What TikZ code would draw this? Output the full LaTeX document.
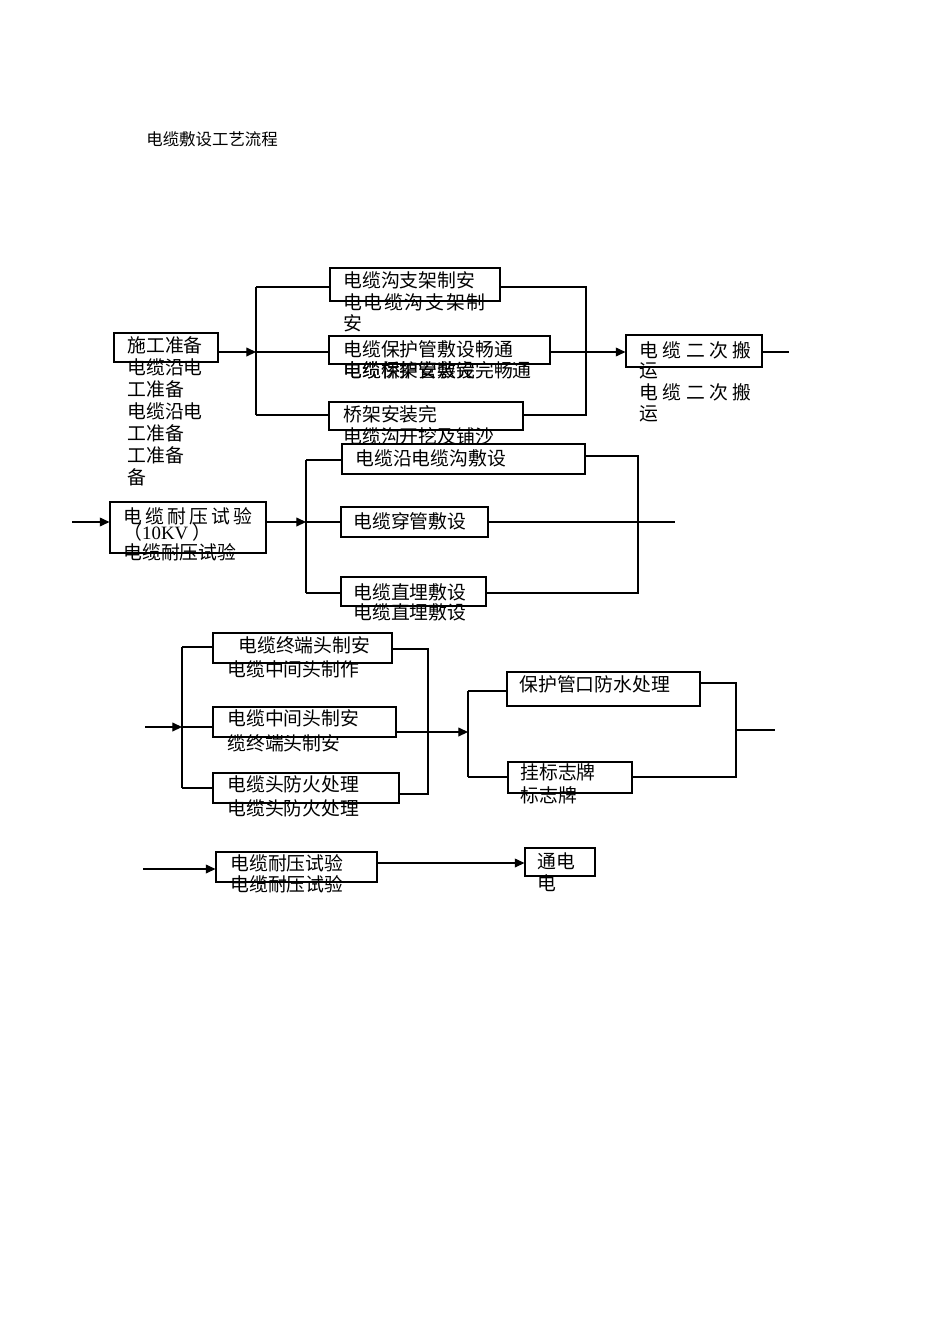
\documentclass[tikz,border=0pt]{standalone}
\usepackage{fontspec}
\setmainfont{Liberation Serif}
\newfontfamily\cjk{Noto Sans CJK SC}
\usetikzlibrary{fit,arrows.meta}

\begin{document}
\begin{tikzpicture}
[
x=0.6263pt, y=-0.6263pt,
box-a/.style={draw, fill=white, line width=0.7pt, inner sep=0pt},
text-a/.style={inner sep=0pt, anchor=west, text height=9.8pt, text depth=0.8pt, font=\cjk\fontsize{11.8pt}{14pt}\selectfont},
text-b/.style={text-a, font=\cjk\fontsize{10.3pt}{12pt}\selectfont},
spaced/.style={text-a, font=\cjk\fontsize{11.8pt}{14pt}\selectfont\addfontfeature{LetterSpace=#1}},
line-a/.style={line width=0.7pt},
arrow-a/.style={line-a, -{Triangle[length=6pt, width=5.5pt]}}
]
\useasboundingbox (0,0) rectangle (950,1344);

\node (title)    [text-b] at (146,138) {电缆敷设工艺流程};

\coordinate (bus-1-t) at (256,287);
\coordinate (bus-1-m) at (256,352);
\coordinate (bus-1-b) at (256,415);
\coordinate (bus-2-t) at (586,287);
\coordinate (bus-2-m) at (586,352);
\coordinate (bus-2-b) at (586,415);
\coordinate (out-1)   at (789,352);

\node (prep)     [box-a, fit={(114,333) (218,362)}] {};
\node (prep-1)   [text-a] at (127,345) {施工准备};
\node (prep-2)   [text-a] at (127,367) {电缆沿电};
\node (prep-3)   [text-a] at (127,389) {工准备};
\node (prep-4)   [text-a] at (127,411) {电缆沿电};
\node (prep-5)   [text-a] at (127,433) {工准备};
\node (prep-6)   [text-a] at (127,455) {工准备};
\node (prep-7)   [text-a] at (127,477) {备};

\node (sup)      [box-a, fit={(330,268) (500,301)}] {};
\node (sup-1)    [text-a]    at (343,280) {电缆沟支架制安};
\node (sup-2)    [spaced=9]  at (343,302) {电电缆沟支架制};
\node (sup-3)    [text-a]    at (343,323) {安};

\node (pipe)     [box-a, fit={(329,336) (550,364)}] {};
\node (pipe-1)   [text-a] at (343,349) {电缆保护管敷设畅通};
\node (pipe-2)   [text-a] at (343,370) {电缆桥架安装完};
\node (pipe-3)   [text-a] at (343,370) {电缆保护管敷设完畅通};

\node (tray)     [box-a, fit={(329,402) (523,430)}] {};
\node (tray-1)   [text-a] at (343,414) {桥架安装完};
\node (tray-2)   [text-a] at (343,436) {电缆沟开挖及铺沙};

\node (move)     [box-a, fit={(626,335) (762,367)}] {};
\node (move-1)   [spaced=24] at (639,350) {电缆二次搬};
\node (move-2)   [text-a]    at (639,370) {运};
\node (move-3)   [spaced=24] at (639,392) {电缆二次搬};
\node (move-4)   [text-a]    at (639,413) {运};

\draw [arrow-a] (prep.east |- bus-1-m) -- (bus-1-m);
\draw [line-a]  (bus-1-t) -- (bus-1-b);
\draw [line-a]  (bus-1-t) -- (sup.west |- bus-1-t);
\draw [line-a]  (bus-1-m) -- (pipe.west |- bus-1-m);
\draw [line-a]  (bus-1-b) -- (tray.west |- bus-1-b);
\draw [line-a]  (sup.east |- bus-2-t) -- (bus-2-t) -- (bus-2-b) -- (tray.east |- bus-2-b);
\draw [line-a]  (pipe.east |- bus-2-m) -- (bus-2-m);
\draw [arrow-a] (bus-2-m) -- (move.west |- bus-2-m);
\draw [line-a]  (move.east |- out-1) -- (out-1);

\coordinate (in-2)    at (72,522);
\coordinate (bus-3-t) at (306,460);
\coordinate (bus-3-m) at (306,522);
\coordinate (bus-3-b) at (306,593);
\coordinate (bus-4-t) at (638,456);
\coordinate (bus-4-b) at (638,593);
\coordinate (out-2)   at (675,522);

\node (test)     [box-a, fit={(110,502) (266,553)}] {};
\node (test-1)   [spaced=17] at (123,516) {电缆耐压试验};
\node (test-2)   [text-a, text height=8.8pt, text depth=0.2pt] at (123,533) {（{\rmfamily 10KV} ）};
\node (test-3)   [text-a]    at (123,552) {电缆耐压试验};

\node (lay-1)    [box-a, fit={(342,444) (585,474)}] {};
\node (lay-1-t)  [text-a] at (355,458) {电缆沿电缆沟敷设};
\node (lay-2)    [box-a, fit={(341,507) (488,537)}] {};
\node (lay-2-t)  [text-a] at (353,521) {电缆穿管敷设};
\node (lay-3)    [box-a, fit={(341,577) (486,606)}] {};
\node (lay-3-t)  [text-a] at (353,592) {电缆直埋敷设};
\node (lay-3-u)  [text-a] at (353,612) {电缆直埋敷设};

\draw [arrow-a] (in-2) -- (test.west |- in-2);
\draw [arrow-a] (test.east |- in-2) -- (bus-3-m);
\draw [line-a]  (bus-3-t) -- (bus-3-b);
\draw [line-a]  (bus-3-t) -- (lay-1.west |- bus-3-t);
\draw [line-a]  (bus-3-m) -- (lay-2.west |- bus-3-m);
\draw [line-a]  (bus-3-b) -- (lay-3.west |- bus-3-b);
\draw [line-a]  (lay-1.east |- bus-4-t) -- (bus-4-t) -- (bus-4-b) -- (lay-3.east |- bus-4-b);
\draw [line-a]  (lay-2.east |- out-2) -- (out-2);

\coordinate (in-3)    at (145,727);
\coordinate (bus-5-t) at (182,647);
\coordinate (bus-5-m) at (182,727);
\coordinate (bus-5-b) at (182,788);
\coordinate (bus-6-t) at (428,649);
\coordinate (bus-6-b) at (428,794);
\coordinate (bus-7-t) at (468,691);
\coordinate (bus-7-m) at (468,732);
\coordinate (bus-7-b) at (468,777);
\coordinate (bus-8-t) at (736,683);
\coordinate (bus-8-m) at (736,730);
\coordinate (bus-8-b) at (736,777);
\coordinate (out-3)   at (775,730);

\node (head)     [box-a, fit={(213,633) (392,663)}] {};
\node (head-1)   [text-a] at (238,645) {电缆终端头制安};
\node (head-2)   [text-a] at (227,669) {电缆中间头制作};
\node (joint)    [box-a, fit={(213,707) (396,737)}] {};
\node (joint-1)  [text-a] at (227,718) {电缆中间头制安};
\node (joint-2)  [text-a] at (227,743) {缆终端头制安};
\node (fire)     [box-a, fit={(213,773) (399,803)}] {};
\node (fire-1)   [text-a] at (227,784) {电缆头防火处理};
\node (fire-2)   [text-a] at (227,808) {电缆头防火处理};

\node (seal)     [box-a, fit={(507,672) (700,706)}] {};
\node (seal-1)   [text-a] at (519,684) {保护管口防水处理};
\node (tag)      [box-a, fit={(508,762) (632,793)}] {};
\node (tag-1)    [text-a] at (520,772) {挂标志牌};
\node (tag-2)    [text-a] at (520,795) {标志牌};

\draw [arrow-a] (in-3) -- (bus-5-m);
\draw [line-a]  (bus-5-t) -- (bus-5-b);
\draw [line-a]  (bus-5-t) -- (head.west |- bus-5-t);
\draw [line-a]  (bus-5-m) -- (joint.west |- bus-5-m);
\draw [line-a]  (bus-5-b) -- (fire.west |- bus-5-b);
\draw [line-a]  (head.east |- bus-6-t) -- (bus-6-t) -- (bus-6-b) -- (fire.east |- bus-6-b);
\draw [arrow-a] (joint.east |- bus-7-m) -- (bus-7-m);
\draw [line-a]  (bus-7-t) -- (bus-7-b);
\draw [line-a]  (bus-7-t) -- (seal.west |- bus-7-t);
\draw [line-a]  (bus-7-b) -- (tag.west |- bus-7-b);
\draw [line-a]  (seal.east |- bus-8-t) -- (bus-8-t) -- (bus-8-b) -- (tag.east |- bus-8-b);
\draw [line-a]  (bus-8-m) -- (out-3);

\coordinate (in-4)    at (143,869);
\coordinate (link-4)  at (400,863);

\node (final)    [box-a, fit={(216,852) (377,882)}] {};
\node (final-1)  [text-a] at (230,863) {电缆耐压试验};
\node (final-2)  [text-a] at (230,884) {电缆耐压试验};
\node (power)    [box-a, fit={(525,848) (595,876)}] {};
\node (power-1)  [text-a] at (537,861) {通电};
\node (power-2)  [text-a] at (537,883) {电};

\draw [arrow-a] (in-4) -- (final.west |- in-4);
\draw [arrow-a] (final.east |- link-4) -- (power.west |- link-4);

\end{tikzpicture}
\end{document}
